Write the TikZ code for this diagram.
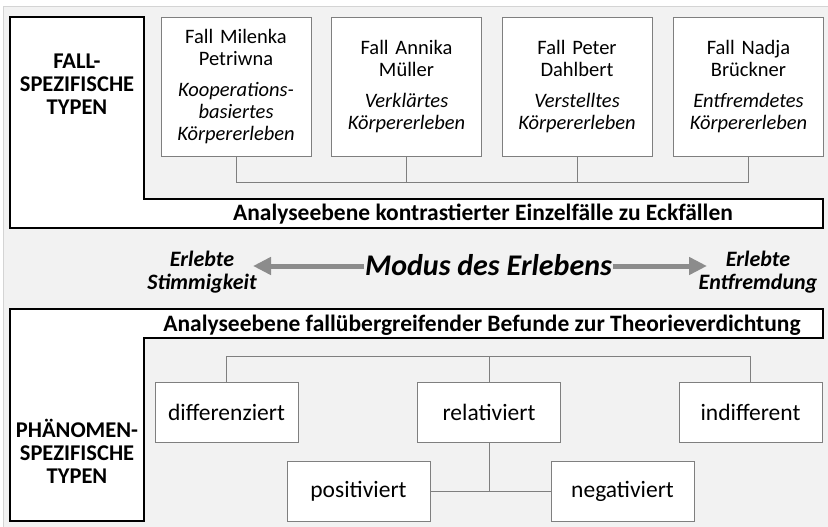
\documentclass[tikz,border=0pt]{standalone}
\usepackage{fontspec}
\setmainfont{Carlito}
\usetikzlibrary{arrows.meta, positioning}
\definecolor{bggray}{HTML}{F2F2F2}
\definecolor{framegray}{HTML}{D4D4D4}
\definecolor{boxgray}{HTML}{7F7F7F}
\definecolor{arrowgray}{HTML}{8C8C8C}

\begin{document}
\begin{tikzpicture}[x=1pt, y=-1pt,
    fall/.style={draw=boxgray, fill=white, line width=0.9pt, minimum width=150pt, minimum height=139pt, text width=148pt, align=center, inner sep=0pt, font=\fontsize{20.5}{22}\selectfont},
    typ/.style={draw=boxgray, fill=white, line width=0.9pt, minimum width=143pt, minimum height=60pt, font=\fontsize{23.5}{26}\selectfont},
    ebene/.style={draw=black, fill=white, line width=1.3pt},
    titel/.style={align=center, font=\bfseries\fontsize{22.5}{23}\selectfont},
    band/.style={font=\bfseries\fontsize{23.5}{26}\selectfont},
    pol/.style={align=center, font=\bfseries\itshape\fontsize{22}{23.5}\selectfont},
    linie/.style={draw=boxgray, line width=0.9pt},
    pfeil/.style={draw=arrowgray, line width=5pt, -{Triangle[length=18pt, width=17pt]}}]
    \useasboundingbox (0,0) rectangle (828,527);
    \fill[white] (0,0) rectangle (828,527);
    \draw[fill=bggray, draw=framegray, line width=1pt] (3,7) rectangle (840,540);

    % obere Ebene
    \draw[ebene] (10,17) -- (144,17) -- (144,199) -- (823,199) -- (823,228) -- (10,228) -- cycle;
    \node[titel] (falltypen) at (77,84) {FALL-\\SPEZIFISCHE\\TYPEN};
    \node[band] (ebeneoben) at (483,214) {Analyseebene kontrastierter Einzelfälle zu Eckfällen};

    \node[fall] (milenka) at (236,86.5) {Fall Milenka\\Petriwna\\[9pt]{\itshape Kooperations-\\basiertes\\Körpererleben}};
    \node[fall] (annika) at (406.5,86.5) {Fall Annika\\Müller\\[9pt]{\itshape Verklärtes\\Körpererleben}};
    \node[fall] (peter) at (577,86.5) {Fall Peter\\Dahlbert\\[9pt]{\itshape Verstelltes\\Körpererleben}};
    \node[fall] (nadja) at (748.5,86.5) {Fall Nadja\\Brückner\\[9pt]{\itshape Entfremdetes\\Körpererleben}};

    \draw[linie]
    (milenka.south) -- ++(0,26) -| (nadja.south)
    (annika.south) -- ++(0,26)
    (peter.south) -- ++(0,26);

    % Modus des Erlebens
    \coordinate (links) at (253,266);
    \coordinate (rechts) at (707,266);
    \node[inner sep=1pt, font=\bfseries\itshape\fontsize{30}{32}\selectfont] (modus) at (488.5,265) {Modus des Erlebens};
    \draw[pfeil] (modus.west |- links) -- (links);
    \draw[pfeil] (modus.east |- rechts) -- (rechts);
    \node[pol] (stimmig) at (202,272) {Erlebte\\Stimmigkeit};
    \node[pol] (fremd) at (758,272) {Erlebte\\Entfremdung};

    % untere Ebene
    \draw[ebene] (10,309) -- (823,309) -- (823,338) -- (144,338) -- (144,521) -- (10,521) -- cycle;
    \node[band] (ebeneunten) at (482,325) {Analyseebene fallübergreifender Befunde zur Theorieverdichtung};
    \node[titel] (phaentypen) at (77,451) {PHÄNOMEN-\\SPEZIFISCHE\\TYPEN};

    \node[typ] (diff) at (226.5,412) {differenziert};
    \node[typ] (rel) at (489,412) {relativiert};
    \node[typ] (indiff) at (750.5,412) {indifferent};
    \node[typ] (pos) at (358.5,491) {positiviert};
    \node[typ] (neg) at (622.5,491) {negativiert};

    \draw[linie]
    (diff.north) -- ++(0,-25) -| (indiff.north)
    (rel.north) -- ++(0,-25)
    (rel.south) -- (rel.south |- pos.east)
    (pos.east) -- (neg.west);
\end{tikzpicture}
\end{document}
